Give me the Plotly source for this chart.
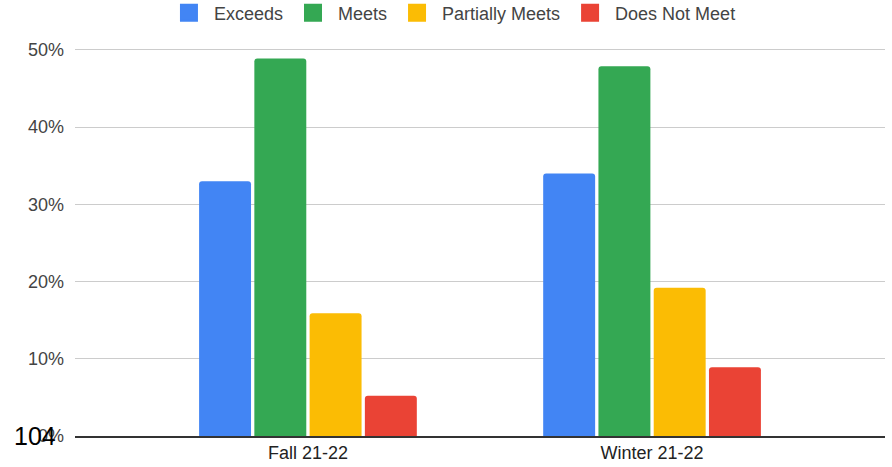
import plotly.graph_objects as go

categories = ["Fall 21-22", "Winter 21-22"]
series_names = ["Exceeds", "Meets", "Partially Meets", "Does Not Meet"]
exceeds = [0.33, 0.34]
meets = [0.489, 0.479]
partially_meets = [0.159, 0.192]
does_not_meet = [0.052, 0.089]
colors = ["#4285F4", "#34A853", "#FBBC04", "#EA4335"]
y_ticks = [0, 0.1, 0.2, 0.3, 0.4, 0.5]
y_tick_labels = ["0%", "10%", "20%", "30%", "40%", "50%"]
corner_text = "104"

values = [exceeds, meets, partially_meets, does_not_meet]
FONT = "Liberation Sans, Arial, sans-serif"

fig = go.Figure()
for name, vals, col in zip(series_names, values, colors):
    fig.add_trace(go.Bar(x=categories, y=vals, name=name, marker_color=col,
                         marker_line_width=0, showlegend=False))
# legend-only markers with larger squares
for name, col in zip(series_names, colors):
    fig.add_trace(go.Scatter(x=[None], y=[None], mode="markers", name=name,
                             marker=dict(symbol="square", size=18, color=col,
                                         line=dict(width=2, color=col))))

fig.update_layout(
    width=892, height=467,
    margin=dict(l=75, r=7, t=38, b=31, autoexpand=False),
    paper_bgcolor="white", plot_bgcolor="white",
    barmode="group", bargap=0.3576, bargroupgap=0.06, barcornerradius=3,
    font=dict(family=FONT, size=18, color="#444"),
    legend=dict(orientation="h", x=0.466, xanchor="center", y=1.063, yanchor="middle",
                font=dict(size=18, color="#444"), itemclick=False, itemwidth=40),
    xaxis=dict(range=[-0.677, 1.677], showline=True, linecolor="#333", linewidth=1.5,
               showgrid=False, ticks="", tickfont=dict(size=18, color="#222"),
               fixedrange=True),
    yaxis=dict(range=[0, 0.5155], tickvals=y_ticks, ticktext=y_tick_labels,
               showgrid=True, gridcolor="#cccccc", gridwidth=1, zeroline=False,
               ticks="", ticklabelstandoff=10, tickfont=dict(size=18, color="#444"),
               fixedrange=True),
)
fig.add_annotation(text=corner_text, xref="paper", yref="paper", x=-0.078, y=0.0,
                   xanchor="left", yanchor="middle", showarrow=False,
                   font=dict(family=FONT, size=25, color="#000"))
fig.write_html("out.html", config={"displayModeBar": False},
               post_script="document.body.style.margin='0';document.body.style.padding='0';")
